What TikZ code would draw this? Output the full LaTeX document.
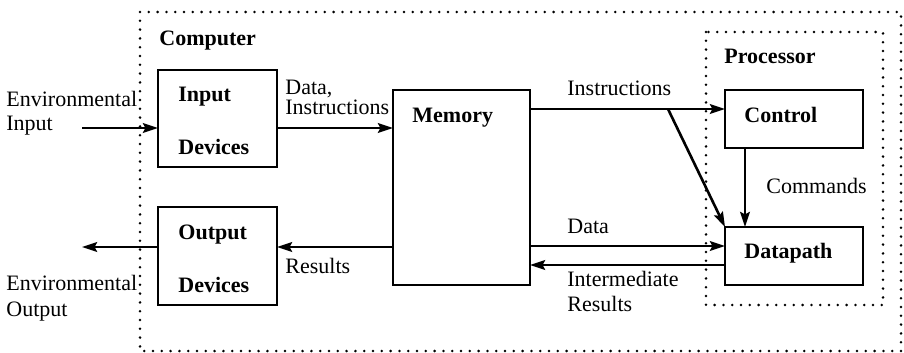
\documentclass[tikz,border=0pt]{standalone}
\usepackage{fontspec}
\setmainfont{Liberation Serif}
\usetikzlibrary{arrows.meta,positioning}
\tikzset{
    box/.style={
           rectangle,
           draw=black, line width=1.3pt,
           inner sep=0pt, outer sep=0pt,
           anchor=north west
           },
    dotbox/.style={
           line width=1.4pt, line cap=round,
           dash pattern=on 0pt off 4.4pt
           },
    lbl/.style={
           inner sep=0pt, anchor=base west,
           font=\fontsize{11}{13}\selectfont
           },
    blbl/.style={
           inner sep=0pt, anchor=base west,
           font=\fontsize{11}{13}\selectfont\bfseries
           },
    arr/.style={
           -{Stealth[length=7.5pt,width=4.8pt,inset=1.2pt]},
           line width=1.3pt
           }
}
\begin{document}
\begin{tikzpicture}[x=0.5pt, y=-0.5pt]
   \useasboundingbox (0,0) rectangle (904,353);
   % dotted frames
   \draw[dotbox] (140,12) rectangle (901,351);
   \draw[dotbox] (706,32) rectangle (883,305);
   \node[blbl] (comp) at (159,46) {Computer};
   \node[blbl] (proc) at (724,64) {Processor};
   % boxes
   \node[box, minimum width=59.5pt, minimum height=48.5pt] (inp) at (158,70) {};
   \node[box, minimum width=59.5pt, minimum height=49pt] (outp) at (158,207) {};
   \node[box, minimum width=68.5pt, minimum height=97.5pt] (mem) at (393,90) {};
   \node[box, minimum width=69pt, minimum height=29pt] (ctrl) at (725,90) {};
   \node[box, minimum width=69pt, minimum height=29pt] (dp) at (725,227) {};
   \node[blbl] (inp1) at (178,102) {Input};
   \node[blbl] (inp2) at (178,155) {Devices};
   \node[blbl] (outp1) at (178,239) {Output};
   \node[blbl] (outp2) at (178,292) {Devices};
   \node[blbl] (memtxt) at (412,122) {Memory};
   \node[blbl] (ctrltxt) at (744,122) {Control};
   \node[blbl] (dptxt) at (744,258) {Datapath};
   % texts
   \node[lbl] (envin1) at (6,106) {Environmental};
   \node[lbl] (envin2) at (6,131) {Input};
   \node[lbl] (envout1) at (6,290) {Environmental};
   \node[lbl] (envout2) at (6,316) {Output};
   \node[lbl] (di1) at (285,95) {Data,};
   \node[lbl] (di2) at (285,114) {Instructions};
   \node[lbl] (res) at (285,273) {Results};
   \node[lbl] (ins) at (567,96) {Instructions};
   \node[lbl] (dat) at (567,233) {Data};
   \node[lbl] (ir1) at (567,286) {Intermediate};
   \node[lbl] (ir2) at (567,311) {Results};
   \node[lbl] (cmd) at (766,193) {Commands};
   % connectors
   \coordinate (envin) at (82,128);
   \coordinate (envout) at (82,247);
   \coordinate (split) at (668,109);
   \coordinate (datln) at (530,246);
   \coordinate (resln) at (530,265);
   \coordinate (cmdln) at (745,0);
   \draw[arr] (envin) -- (envin -| inp.west);
   \draw[arr] (envin -| inp.east) -- (envin -| mem.west);
   \draw[arr] (split -| mem.east) -- (split -| ctrl.west);
   \draw[arr] (split) -- (dp.north west);
   \draw[arr] (cmdln |- ctrl.south) -- (cmdln |- dp.north);
   \draw[arr] (datln) -- (datln -| dp.west);
   \draw[arr] (resln -| dp.west) -- (resln);
   \draw[arr] (envout -| mem.west) -- (envout -| outp.east);
   \draw[arr] (envout -| outp.west) -- (envout);
\end{tikzpicture}
\end{document}
